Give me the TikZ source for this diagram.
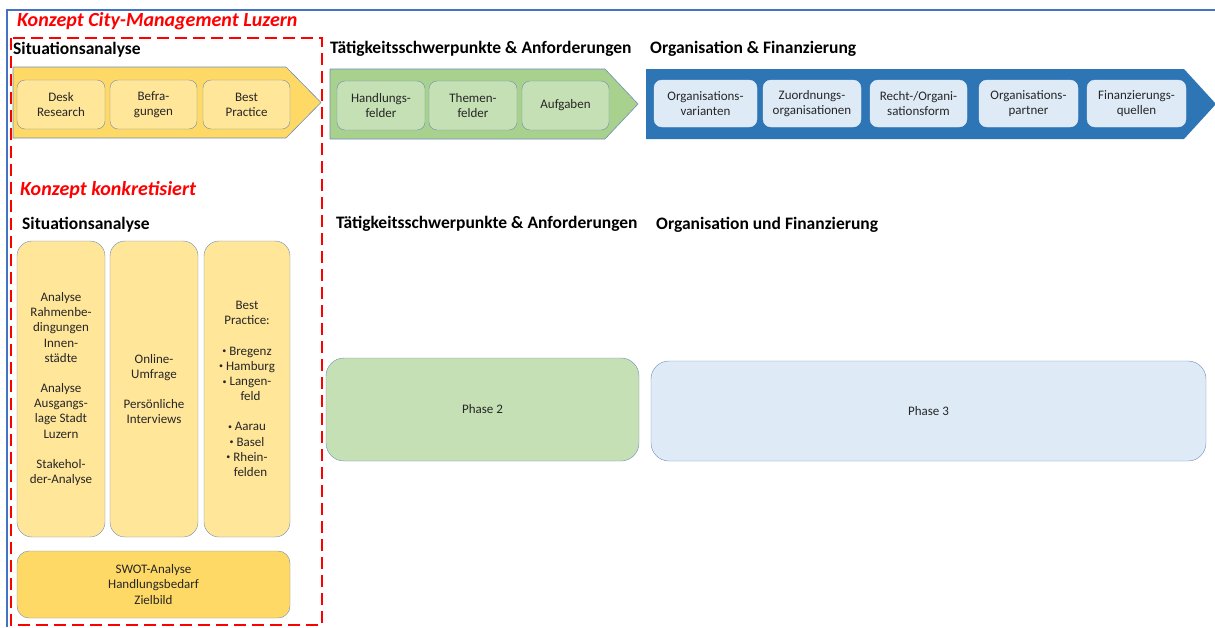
\documentclass[tikz,border=0pt]{standalone}
\usepackage{fontspec}
\setmainfont{Carlito}
\usetikzlibrary{calc,shapes}

\definecolor{framebl}{HTML}{4472C4}
\definecolor{boxline}{HTML}{6F8DB8}
\definecolor{txtgrey}{HTML}{262626}
\definecolor{goldfill}{HTML}{FFD966}
\definecolor{goldlight}{HTML}{FFE699}
\definecolor{greenfill}{HTML}{A9D18E}
\definecolor{greenlight}{HTML}{C5E0B4}
\definecolor{bluefill}{HTML}{2E75B6}
\definecolor{bluelight}{HTML}{DEEBF7}
\newcommand{\ortpunkt}{{\fontsize{8}{8}\selectfont\raisebox{1.5pt}{\textbullet}}\ }

\begin{document}
\begin{tikzpicture}[x=1pt,y=-1pt,
    head/.style={anchor=west,inner sep=0pt,font=\bfseries\fontsize{17.5}{20}\selectfont},
    konzept/.style={anchor=west,inner sep=0pt,text=red,font=\bfseries\itshape\fontsize{20}{24}\selectfont},
    box/.style={draw=boxline,rounded corners=8pt,align=center,inner sep=0pt,text=txtgrey,font=\fontsize{13}{15.2}\selectfont},
    smallbox/.style={box,minimum width=88pt,minimum height=49pt},
    orgbox/.style={box,fill=bluelight,draw=bluelight,minimum height=47pt},
    tallbox/.style={box,fill=goldlight,rounded corners=15pt,minimum width=88pt,minimum height=296pt},
    phasebox/.style={box,rounded corners=18pt}]
  \useasboundingbox (0,0) rectangle (1215,627);
  \draw[framebl,line width=2pt] (7,627) -- (7,10) -- (1215,10);
  \node[konzept] (titel) at (17,21) {Konzept City-Management Luzern};
  \draw[red,line width=2.8pt,dash pattern=on 12pt off 6pt] (11,38) rectangle (322,625);

  % Phase 1
  \node[head] (sit) at (13,50) {Situationsanalyse};
  \draw[boxline,fill=goldfill,line width=0.6pt] (13,67) -- (286,67) -- (321,102.5) -- (286,138) -- (13,138) -- cycle;
  \node[smallbox,fill=goldlight] (desk) at (61,104.5) {Desk\\Research};
  \node[smallbox,fill=goldlight,minimum width=87pt] (befr) at (153.5,104.5) {Befra-\\gungen};
  \node[smallbox,fill=goldlight,minimum width=87pt] (bestp) at (246.5,104.5) {Best\\Practice};

  % Phase 2
  \node[head] (taet) at (330,49) {Tätigkeitsschwerpunkte \& Anforderungen};
  \draw[boxline,fill=greenfill,line width=0.6pt] (330,69) -- (605,69) -- (638,104) -- (605,139) -- (330,139) -- cycle;
  \node[smallbox,fill=greenlight] (handl) at (381,105.5) {Handlungs-\\felder};
  \node[smallbox,fill=greenlight] (themen) at (473,105.5) {Themen-\\felder};
  \node[smallbox,fill=greenlight,minimum width=87pt] (aufg) at (565.5,105.5) {Aufgaben};

  % Phase 3
  \node[head] (orga) at (650,49) {Organisation \& Finanzierung};
  \fill[bluefill] (646,69) -- (1184,69) -- (1216,104) -- (1184,139) -- (646,139) -- cycle;
  \node[orgbox,minimum width=103pt] (varia) at (705.5,103.5) {Organisations-\\varianten};
  \node[orgbox,minimum width=98pt] (zuord) at (812,103.5) {Zuordnungs-\\organisationen};
  \node[orgbox,minimum width=97pt] (recht) at (918.5,103.5) {Recht-/Organi-\\sationsform};
  \node[orgbox,minimum width=99pt] (partn) at (1028.5,103.5) {Organisations-\\partner};
  \node[orgbox,minimum width=99pt] (quell) at (1136.5,103.5) {Finanzierungs-\\quellen};

  % konkretisiert
  \node[konzept] (konkret) at (20,190) {Konzept konkretisiert};
  \node[head] (sit2) at (22,225) {Situationsanalyse};
  \node[tallbox] (rahmen) at (61,389) {Analyse\\Rahmenbe-\\dingungen\\Innen-\\städte\\[15pt]Analyse\\Ausgangs-\\lage Stadt\\Luzern\\[15pt]Stakehol-\\der-Analyse};
  \node[tallbox] (umfrage) at (154,389) {Online-\\Umfrage\\[15pt]Persönliche\\Interviews};
  \node[tallbox,minimum width=86pt] (staedte) at (247,389) {Best\\Practice:\\[15pt]\ortpunkt Bregenz\\\ortpunkt Hamburg\\\ortpunkt Langen-\\\hphantom{\ortpunkt}feld\\[15pt]\ortpunkt Aarau\\\ortpunkt Basel\\\ortpunkt Rhein-\\\hphantom{\ortpunkt}felden};
  \node[box,fill=goldfill,rounded corners=12pt,minimum width=273pt,minimum height=67pt] (swot) at (153.5,584.5) {SWOT-Analyse\\Handlungsbedarf\\Zielbild};

  \node[head] (taet2) at (336,224) {Tätigkeitsschwerpunkte \& Anforderungen};
  \node[head] (orga2) at (656,225) {Organisation und Finanzierung};
  \node[phasebox,fill=greenlight,minimum width=313pt,minimum height=103pt] (phase2) at (482.5,409.5) {Phase 2};
  \node[phasebox,fill=bluelight,minimum width=555pt,minimum height=100pt] (phase3) at (928.5,411) {Phase 3};
\end{tikzpicture}
\end{document}
